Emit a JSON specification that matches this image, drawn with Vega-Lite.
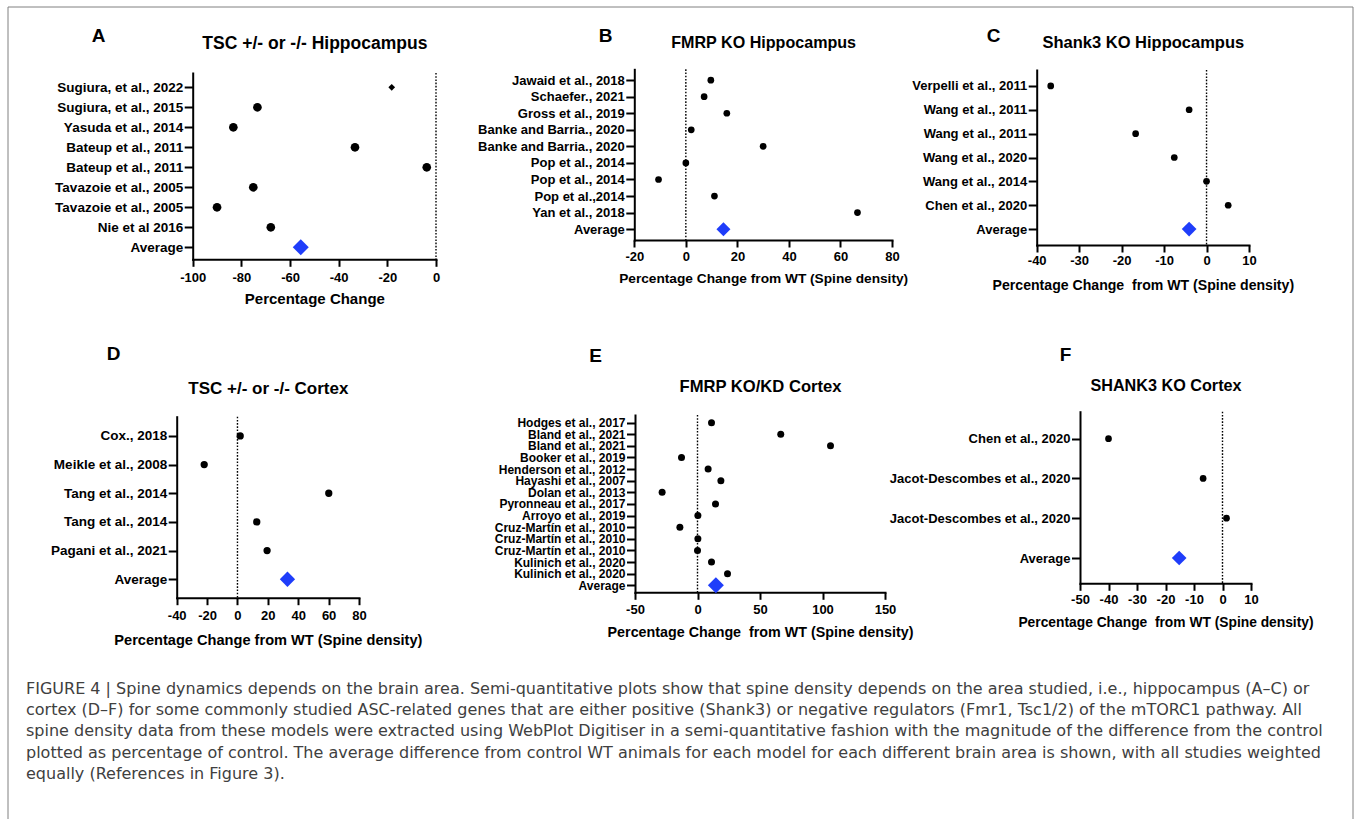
{
  "$schema": "https://vega.github.io/schema/vega-lite/v6.json",
  "width": 1345,
  "height": 812,
  "autosize": {"type": "none"},
  "padding": {"left": 8, "top": 7, "right": 3, "bottom": 0},
  "background": "white",
  "title": {
    "text": [
      "FIGURE 4 | Spine dynamics depends on the brain area. Semi-quantitative plots show that spine density depends on the area studied, i.e., hippocampus (A–C) or",
      "cortex (D–F) for some commonly studied ASC-related genes that are either positive (Shank3) or negative regulators (Fmr1, Tsc1/2) of the mTORC1 pathway. All",
      "spine density data from these models were extracted using WebPlot Digitiser in a semi-quantitative fashion with the magnitude of the difference from the control",
      "plotted as percentage of control. The average difference from control WT animals for each model for each different brain area is shown, with all studies weighted",
      "equally (References in Figure 3)."
    ],
    "orient": "top",
    "anchor": "start",
    "frame": "group",
    "align": "left",
    "baseline": "middle",
    "offset": -783.5,
    "dx": 18,
    "font": "DejaVu Sans",
    "fontSize": 16,
    "fontWeight": "normal",
    "color": "#404040",
    "lineHeight": 21.3
  },
  "config": {
    "font": "Liberation Sans",
    "view": {"stroke": null},
    "axis": {
      "grid": false,
      "domainColor": "black",
      "domainWidth": 2,
      "domainCap": "square",
      "tickColor": "black",
      "tickWidth": 2,
      "labelColor": "black",
      "titleColor": "black",
      "labelFont": "Liberation Sans",
      "titleFont": "Liberation Sans",
      "labelFontWeight": "bold",
      "titleFontWeight": "bold",
      "labelOverlap": false,
      "labelFlush": false,
      "labelLimit": 0
    },
    "axisX": {"tickSize": 7, "labelFontSize": 13, "labelBaseline": "middle", "titleBaseline": "middle", "labelExpr": "replace(datum.label, '\u2212', '-')"},
    "axisY": {"tickSize": 8.5, "labelPadding": 1.5, "titleAngle": 0, "titleAlign": "center", "titleBaseline": "middle", "titleFontSize": 19}
  },
  "datasets": {
    "A": [
      {"study": "Sugiura, et al., 2022", "value": -18.2, "kind": "small"},
      {"study": "Sugiura, et al., 2015", "value": -73.4, "kind": "study"},
      {"study": "Yasuda et al., 2014", "value": -83.3, "kind": "study"},
      {"study": "Bateup et al., 2011", "value": -33.3, "kind": "study"},
      {"study": "Bateup et al., 2011\u200b", "value": -3.8, "kind": "study"},
      {"study": "Tavazoie et al., 2005", "value": -75.1, "kind": "study"},
      {"study": "Tavazoie et al., 2005\u200b", "value": -90.0, "kind": "study"},
      {"study": "Nie et al 2016", "value": -67.9, "kind": "study"},
      {"study": "Average", "value": -55.6, "kind": "average"}
    ],
    "B": [
      {"study": "Jawaid et al., 2018", "value": 9.7, "kind": "study"},
      {"study": "Schaefer., 2021", "value": 7.1, "kind": "study"},
      {"study": "Gross et al., 2019", "value": 15.9, "kind": "study"},
      {"study": "Banke and Barria., 2020", "value": 2.1, "kind": "study"},
      {"study": "Banke and Barria., 2020\u200b", "value": 30.0, "kind": "study"},
      {"study": "Pop et al., 2014", "value": 0.0, "kind": "study"},
      {"study": "Pop et al., 2014\u200b", "value": -10.6, "kind": "study"},
      {"study": "Pop et al.,2014", "value": 11.1, "kind": "study"},
      {"study": "Yan et al., 2018", "value": 66.6, "kind": "study"},
      {"study": "Average", "value": 14.6, "kind": "average"}
    ],
    "C": [
      {"study": "Verpelli et al., 2011", "value": -36.7, "kind": "study"},
      {"study": "Wang et al., 2011", "value": -4.1, "kind": "study"},
      {"study": "Wang et al., 2011\u200b", "value": -16.7, "kind": "study"},
      {"study": "Wang et al., 2020", "value": -7.6, "kind": "study"},
      {"study": "Wang et al., 2014", "value": 0.0, "kind": "study"},
      {"study": "Chen et al., 2020", "value": 5.1, "kind": "study"},
      {"study": "Average", "value": -4.1, "kind": "average"}
    ],
    "D": [
      {"study": "Cox., 2018", "value": 1.8, "kind": "study"},
      {"study": "Meikle et al., 2008", "value": -21.9, "kind": "study"},
      {"study": "Tang et al., 2014", "value": 60.1, "kind": "study"},
      {"study": "Tang et al., 2014\u200b", "value": 12.7, "kind": "study"},
      {"study": "Pagani et al., 2021", "value": 19.5, "kind": "study"},
      {"study": "Average", "value": 32.9, "kind": "average"}
    ],
    "E": [
      {"study": "Hodges et al., 2017", "value": 11.2, "kind": "study"},
      {"study": "Bland et al., 2021", "value": 66.6, "kind": "study"},
      {"study": "Bland et al., 2021\u200b", "value": 106.4, "kind": "study"},
      {"study": "Booker et al., 2019", "value": -12.8, "kind": "study"},
      {"study": "Henderson et al., 2012", "value": 8.5, "kind": "study"},
      {"study": "Hayashi et al., 2007", "value": 18.7, "kind": "study"},
      {"study": "Dolan et al., 2013", "value": -28.3, "kind": "study"},
      {"study": "Pyronneau et al., 2017", "value": 14.4, "kind": "study"},
      {"study": "Arroyo et al., 2019", "value": 0.3, "kind": "study"},
      {"study": "Cruz-Martín et al., 2010", "value": -14.1, "kind": "study"},
      {"study": "Cruz-Martín et al., 2010\u200b", "value": 0.3, "kind": "study"},
      {"study": "Cruz-Martín et al., 2010\u200b\u200b", "value": 0.0, "kind": "study"},
      {"study": "Kulinich et al., 2020", "value": 11.2, "kind": "study"},
      {"study": "Kulinich et al., 2020\u200b", "value": 24.0, "kind": "study"},
      {"study": "Average", "value": 14.7, "kind": "average"}
    ],
    "F": [
      {"study": "Chen et al., 2020", "value": -40.0, "kind": "study"},
      {"study": "Jacot-Descombes et al., 2020", "value": -6.8, "kind": "study"},
      {"study": "Jacot-Descombes et al., 2020\u200b", "value": 1.4, "kind": "study"},
      {"study": "Average", "value": -15.2, "kind": "average"}
    ]
  },
  "layer": [
    {
      "data": {"values": [{}]},
      "mark": {"type": "rect", "filled": false, "stroke": "#808080", "strokeWidth": 1},
      "encoding": {
        "x": {"datum": 0, "type": "quantitative", "scale": {"domain": [0, 1], "nice": false, "zero": false}, "axis": null},
        "x2": {"datum": 1},
        "y": {"datum": 1, "type": "quantitative", "scale": {"domain": [0, 1], "nice": false, "zero": false}, "axis": null},
        "y2": {"datum": -0.05}
      }
    },

    {
      "data": {"values": [{}]},
      "mark": {"type": "rule", "color": "black", "strokeDash": [1.6, 1.6], "strokeWidth": 1.4},
      "encoding": {
        "x": {"datum": 0, "type": "quantitative", "scale": {"domain": [-100, 0], "range": [184.7, 428], "nice": false, "zero": false},
              "axis": {"orient": "top", "offset": 0, "domain": false, "ticks": false, "labels": false, "title": "TSC +/- or -/- Hippocampus", "titleFontSize": 17.5, "titleY": 36, "titleBaseline": "middle"}},
        "y": {"datum": 0, "type": "quantitative", "scale": {"domain": [0, 1], "range": [66, 252.3], "nice": false, "zero": false}, "axis": null},
        "y2": {"datum": 1}
      }
    },
    {
      "data": {"name": "A"},
      "mark": {"type": "point", "filled": true, "opacity": 1, "strokeWidth": 0},
      "encoding": {
        "x": {"field": "value", "type": "quantitative", "scale": {"domain": [-100, 0], "range": [184.7, 428], "nice": false, "zero": false},
              "axis": {"orient": "bottom", "offset": -559.7, "values": [-100, -80, -60, -40, -20, 0], "labelPadding": 11, "title": "Percentage Change", "titleFontSize": 15, "titleY": 38.7}},
        "y": {"field": "study", "type": "nominal", "sort": null, "scale": {"range": [66, 252.3], "padding": 0.657, "align": 0.544},
              "axis": {"orient": "left", "offset": -184.7, "labelFontSize": 13.5, "title": "A", "titleX": -94.7, "titleY": 28}},
        "shape": {"condition": {"test": "datum.kind !== 'study'", "value": "diamond"}, "value": "circle"},
        "color": {"condition": {"test": "datum.kind === 'average'", "value": "#1f3dfa"}, "value": "black"},
        "size": {"condition": [{"test": "datum.kind === 'average'", "value": 256}, {"test": "datum.kind === 'small'", "value": 45}], "value": 75}
      }
    },

    {
      "data": {"values": [{}]},
      "mark": {"type": "rule", "color": "black", "strokeDash": [1.6, 1.6], "strokeWidth": 1.4},
      "encoding": {
        "x": {"datum": 0, "type": "quantitative", "scale": {"domain": [-20, 80], "range": [626.3, 884], "nice": false, "zero": false},
              "axis": {"orient": "top", "offset": 0, "domain": false, "ticks": false, "labels": false, "title": "FMRP KO Hippocampus", "titleFontSize": 16.1, "titleY": 35, "titleBaseline": "middle"}},
        "y": {"datum": 0, "type": "quantitative", "scale": {"domain": [0, 1], "range": [62.3, 233], "nice": false, "zero": false}, "axis": null},
        "y2": {"datum": 1}
      }
    },
    {
      "data": {"name": "B"},
      "mark": {"type": "point", "filled": true, "opacity": 1, "strokeWidth": 0},
      "encoding": {
        "x": {"field": "value", "type": "quantitative", "scale": {"domain": [-20, 80], "range": [626.3, 884], "nice": false, "zero": false},
              "axis": {"orient": "bottom", "offset": -579, "values": [-20, 0, 20, 40, 60, 80], "labelPadding": 9.7, "title": "Percentage Change from WT (Spine density)", "titleFontSize": 13.7, "titleY": 38.3}},
        "y": {"field": "study", "type": "nominal", "sort": null, "scale": {"range": [62.3, 233], "padding": 0.655, "align": 0.5},
              "axis": {"orient": "left", "offset": -626.3, "labelFontSize": 13, "title": "B", "titleX": -29.3, "titleY": 28}},
        "shape": {"condition": {"test": "datum.kind === 'average'", "value": "diamond"}, "value": "circle"},
        "color": {"condition": {"test": "datum.kind === 'average'", "value": "#1f3dfa"}, "value": "black"},
        "size": {"condition": {"test": "datum.kind === 'average'", "value": 196}, "value": 45}
      }
    },

    {
      "data": {"values": [{}]},
      "mark": {"type": "rule", "color": "black", "strokeDash": [1.6, 1.6], "strokeWidth": 1.4},
      "encoding": {
        "x": {"datum": 0, "type": "quantitative", "scale": {"domain": [-40, 10], "range": [1028.7, 1241], "nice": false, "zero": false},
              "axis": {"orient": "top", "offset": 0, "domain": false, "ticks": false, "labels": false, "title": "Shank3 KO Hippocampus", "titleFontSize": 16.5, "titleY": 35, "titleBaseline": "middle"}},
        "y": {"datum": 0, "type": "quantitative", "scale": {"domain": [0, 1], "range": [63, 238], "nice": false, "zero": false}, "axis": null},
        "y2": {"datum": 1}
      }
    },
    {
      "data": {"name": "C"},
      "mark": {"type": "point", "filled": true, "opacity": 1, "strokeWidth": 0},
      "encoding": {
        "x": {"field": "value", "type": "quantitative", "scale": {"domain": [-40, 10], "range": [1028.7, 1241], "nice": false, "zero": false},
              "axis": {"orient": "bottom", "offset": -574, "values": [-40, -30, -20, -10, 0, 10], "labelPadding": 8, "title": "Percentage Change\u00a0 from WT (Spine density)", "titleFontSize": 14.1, "titleY": 40}},
        "y": {"field": "study", "type": "nominal", "sort": null, "scale": {"range": [63, 238], "padding": 0.665, "align": 0.5},
              "axis": {"orient": "left", "offset": -1028.7, "labelFontSize": 13, "title": "C", "titleX": -43.7, "titleY": 28}},
        "shape": {"condition": {"test": "datum.kind === 'average'", "value": "diamond"}, "value": "circle"},
        "color": {"condition": {"test": "datum.kind === 'average'", "value": "#1f3dfa"}, "value": "black"},
        "size": {"condition": {"test": "datum.kind === 'average'", "value": 216}, "value": 45}
      }
    },

    {
      "data": {"values": [{}]},
      "mark": {"type": "rule", "color": "black", "strokeDash": [1.6, 1.6], "strokeWidth": 1.4},
      "encoding": {
        "x": {"datum": 0, "type": "quantitative", "scale": {"domain": [-40, 80], "range": [168.7, 351], "nice": false, "zero": false},
              "axis": {"orient": "top", "offset": 0, "domain": false, "ticks": false, "labels": false, "title": "TSC +/- or -/- Cortex", "titleFontSize": 17, "titleY": 381, "titleBaseline": "middle"}},
        "y": {"datum": 0, "type": "quantitative", "scale": {"domain": [0, 1], "range": [409.7, 590.7], "nice": false, "zero": false}, "axis": null},
        "y2": {"datum": 1}
      }
    },
    {
      "data": {"name": "D"},
      "mark": {"type": "point", "filled": true, "opacity": 1, "strokeWidth": 0},
      "encoding": {
        "x": {"field": "value", "type": "quantitative", "scale": {"domain": [-40, 80], "range": [168.7, 351], "nice": false, "zero": false},
              "axis": {"orient": "bottom", "offset": -221.3, "values": [-40, -20, 0, 20, 40, 60, 80], "labelPadding": 10.3, "title": "Percentage Change from WT (Spine density)", "titleFontSize": 14.6, "titleY": 42.3}},
        "y": {"field": "study", "type": "nominal", "sort": null, "scale": {"range": [409.7, 590.7], "padding": 0.657, "align": 0.51},
              "axis": {"orient": "left", "offset": -168.7, "labelFontSize": 13.5, "title": "D", "titleX": -63.7, "titleY": 346}},
        "shape": {"condition": {"test": "datum.kind === 'average'", "value": "diamond"}, "value": "circle"},
        "color": {"condition": {"test": "datum.kind === 'average'", "value": "#1f3dfa"}, "value": "black"},
        "size": {"condition": {"test": "datum.kind === 'average'", "value": 234}, "value": 53}
      }
    },

    {
      "data": {"values": [{}]},
      "mark": {"type": "rule", "color": "black", "strokeDash": [1.6, 1.6], "strokeWidth": 1.4},
      "encoding": {
        "x": {"datum": 0, "type": "quantitative", "scale": {"domain": [-50, 150], "range": [627, 877], "nice": false, "zero": false},
              "axis": {"orient": "top", "offset": 0, "domain": false, "ticks": false, "labels": false, "title": "FMRP KO/KD Cortex", "titleFontSize": 16.6, "titleY": 379, "titleBaseline": "middle"}},
        "y": {"datum": 0, "type": "quantitative", "scale": {"domain": [0, 1], "range": [408, 585.3], "nice": false, "zero": false}, "axis": null},
        "y2": {"datum": 1}
      }
    },
    {
      "data": {"name": "E"},
      "mark": {"type": "point", "filled": true, "opacity": 1, "strokeWidth": 0},
      "encoding": {
        "x": {"field": "value", "type": "quantitative", "scale": {"domain": [-50, 150], "range": [627, 877], "nice": false, "zero": false},
              "axis": {"orient": "bottom", "offset": -226.7, "values": [-50, 0, 50, 100, 150], "labelPadding": 10, "title": "Percentage Change\u00a0 from WT (Spine density)", "titleFontSize": 14.3, "titleY": 40.4}},
        "y": {"field": "study", "type": "nominal", "sort": null, "scale": {"range": [408, 585.3], "padding": 0.633, "align": 0.52},
              "axis": {"orient": "left", "offset": -627, "labelFontSize": 12, "title": "E", "titleX": -40, "titleY": 348}},
        "shape": {"condition": {"test": "datum.kind === 'average'", "value": "diamond"}, "value": "circle"},
        "color": {"condition": {"test": "datum.kind === 'average'", "value": "#1f3dfa"}, "value": "black"},
        "size": {"condition": {"test": "datum.kind === 'average'", "value": 256}, "value": 49}
      }
    },

    {
      "data": {"values": [{}]},
      "mark": {"type": "rule", "color": "black", "strokeDash": [1.6, 1.6], "strokeWidth": 1.4},
      "encoding": {
        "x": {"datum": 0, "type": "quantitative", "scale": {"domain": [-50, 10], "range": [1072, 1243], "nice": false, "zero": false},
              "axis": {"orient": "top", "offset": 0, "domain": false, "ticks": false, "labels": false, "title": "SHANK3 KO Cortex", "titleFontSize": 16.2, "titleY": 378, "titleBaseline": "middle"}},
        "y": {"datum": 0, "type": "quantitative", "scale": {"domain": [0, 1], "range": [404.7, 576.3], "nice": false, "zero": false}, "axis": null},
        "y2": {"datum": 1}
      }
    },
    {
      "data": {"name": "F"},
      "mark": {"type": "point", "filled": true, "opacity": 1, "strokeWidth": 0},
      "encoding": {
        "x": {"field": "value", "type": "quantitative", "scale": {"domain": [-50, 10], "range": [1072, 1243], "nice": false, "zero": false},
              "axis": {"orient": "bottom", "offset": -235.7, "values": [-50, -40, -30, -20, -10, 0, 10], "labelPadding": 9, "title": "Percentage Change\u00a0 from WT (Spine density)", "titleFontSize": 13.8, "titleY": 39.4}},
        "y": {"field": "study", "type": "nominal", "sort": null, "scale": {"range": [404.7, 576.3], "padding": 0.657, "align": 0.516},
              "axis": {"orient": "left", "offset": -1072, "labelFontSize": 13, "title": "F", "titleX": -15, "titleY": 347}},
        "shape": {"condition": {"test": "datum.kind === 'average'", "value": "diamond"}, "value": "circle"},
        "color": {"condition": {"test": "datum.kind === 'average'", "value": "#1f3dfa"}, "value": "black"},
        "size": {"condition": {"test": "datum.kind === 'average'", "value": 216}, "value": 45}
      }
    }
  ],
  "resolve": {
    "scale": {"x": "independent", "y": "independent"},
    "axis": {"x": "independent", "y": "independent"}
  }
}
